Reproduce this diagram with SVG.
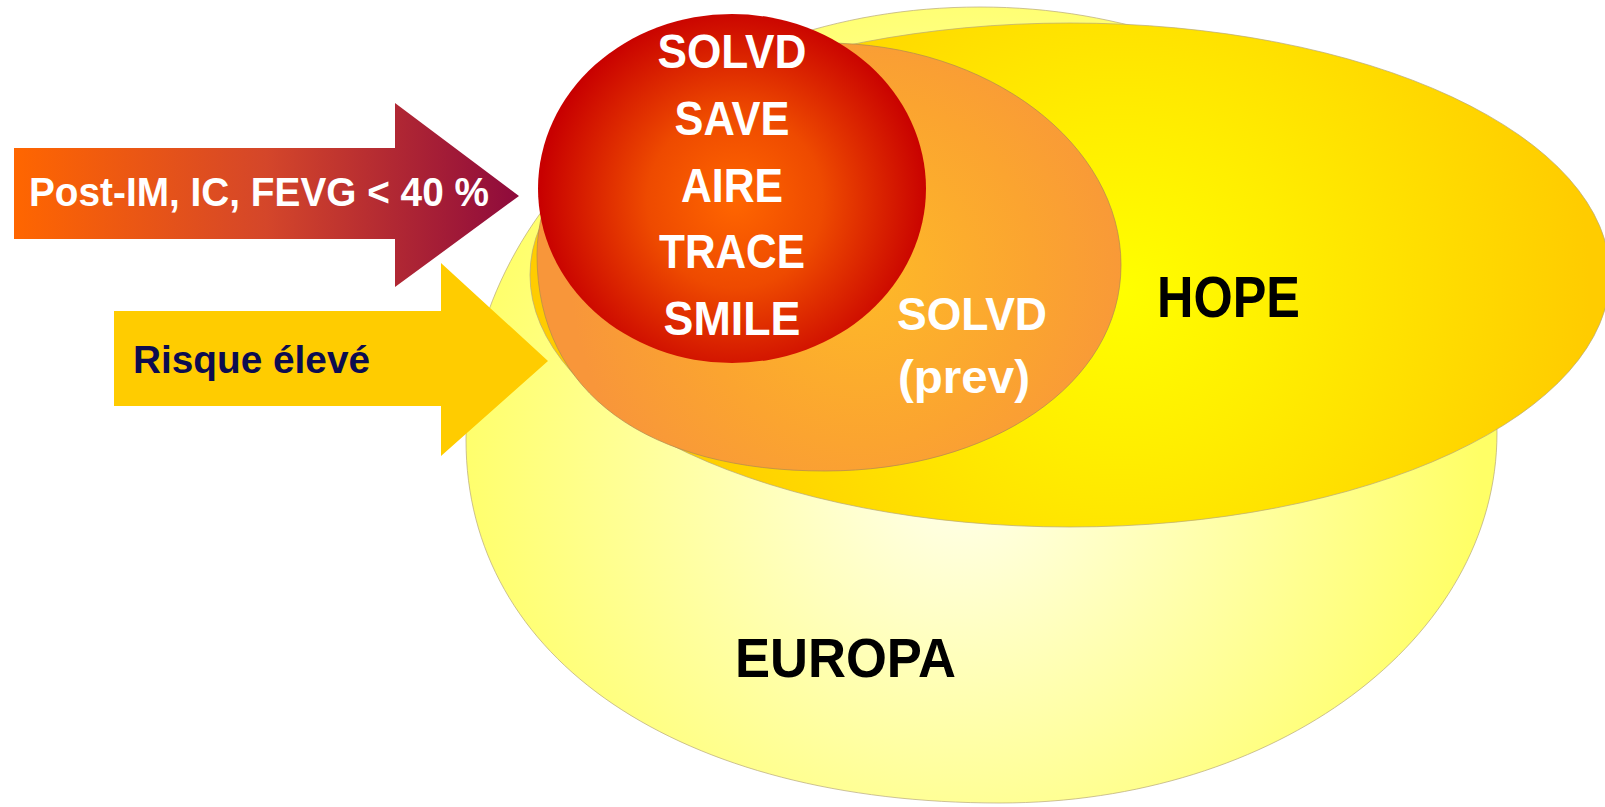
<svg xmlns="http://www.w3.org/2000/svg" width="1605" height="807" viewBox="0 0 1605 807">
  <defs>
    <radialGradient id="gEuropa" gradientUnits="userSpaceOnUse" cx="960" cy="470" r="520">
      <stop offset="0" stop-color="#FFFFEE"/>
      <stop offset="0.45" stop-color="#FFFFB0"/>
      <stop offset="1" stop-color="#FFFF66"/>
    </radialGradient>
    <radialGradient id="gHope" gradientUnits="userSpaceOnUse" cx="1120" cy="290" r="470">
      <stop offset="0" stop-color="#FFFF00"/>
      <stop offset="0.35" stop-color="#FFEE00"/>
      <stop offset="1" stop-color="#FFCC00"/>
    </radialGradient>
    <radialGradient id="gPrev" gradientUnits="userSpaceOnUse" cx="860" cy="270" r="290">
      <stop offset="0" stop-color="#FEBA28"/>
      <stop offset="0.6" stop-color="#FBA430"/>
      <stop offset="1" stop-color="#F8963A"/>
    </radialGradient>
    <radialGradient id="gRed" gradientUnits="userSpaceOnUse" cx="735" cy="200" r="195">
      <stop offset="0" stop-color="#FF6600"/>
      <stop offset="0.45" stop-color="#EE4A00"/>
      <stop offset="1" stop-color="#C80000"/>
    </radialGradient>
    <linearGradient id="gArrow1" gradientUnits="userSpaceOnUse" x1="14" y1="0" x2="520" y2="0">
      <stop offset="0" stop-color="#FF6600"/>
      <stop offset="0.5" stop-color="#D4462A"/>
      <stop offset="1" stop-color="#8E0A3C"/>
    </linearGradient>
  </defs>
  <style>
    .lbl { font-family: "Liberation Sans", Arial, sans-serif; font-weight: bold; }
    .white { fill: #FFFFFF; }
    .black { fill: #000000; }
    .edge { stroke: #B8A878; stroke-width: 1; stroke-opacity: 0.7; }
  </style>
  <rect width="1605" height="807" fill="#FFFFFF"/>

  <g id="europa">
    <path class="edge" fill="url(#gEuropa)" d="M 466 440 C 466 200 690 7 980 7 C 1265 7 1497 200 1497 433 C 1497 640 1275 803 1000 803 C 680 803 466 660 466 440 Z"/>
    <text class="lbl black" x="735" y="677" font-size="55" textLength="221" lengthAdjust="spacingAndGlyphs">EUROPA</text>
  </g>

  <g id="hope">
    <ellipse class="edge" cx="1070" cy="275" rx="540" ry="252" fill="url(#gHope)" stroke="#C9A200"/>
    <text class="lbl black" x="1157" y="317" font-size="57" textLength="143" lengthAdjust="spacingAndGlyphs">HOPE</text>
  </g>

  <g id="solvd-prev">
    <path d="M 537 255 C 537 135 665 43 825 43 C 990 43 1121 145 1121 265 C 1121 385 990 471 825 471 C 650 471 537 395 537 255 Z" fill="url(#gPrev)" stroke="#B08A50" stroke-width="1" stroke-opacity="0.7"/>
    <text class="lbl white" x="897" y="330" font-size="47" textLength="150" lengthAdjust="spacingAndGlyphs">SOLVD</text>
    <text class="lbl white" x="898" y="393" font-size="47" textLength="132" lengthAdjust="spacingAndGlyphs">(prev)</text>
  </g>

  <g id="post-im-trials">
    <ellipse cx="732" cy="188.5" rx="194" ry="174.5" fill="url(#gRed)"/>
    <text class="lbl white" x="732" y="68" font-size="48" text-anchor="middle" textLength="149" lengthAdjust="spacingAndGlyphs">SOLVD</text>
    <text class="lbl white" x="732" y="135" font-size="48" text-anchor="middle" textLength="115" lengthAdjust="spacingAndGlyphs">SAVE</text>
    <text class="lbl white" x="732" y="202" font-size="48" text-anchor="middle" textLength="102" lengthAdjust="spacingAndGlyphs">AIRE</text>
    <text class="lbl white" x="732" y="268" font-size="48" text-anchor="middle" textLength="146" lengthAdjust="spacingAndGlyphs">TRACE</text>
    <text class="lbl white" x="732" y="335" font-size="48" text-anchor="middle" textLength="137" lengthAdjust="spacingAndGlyphs">SMILE</text>
  </g>

  <g id="arrow-post-im">
    <polygon points="14,148 395,148 395,103 519,196 395,287 395,239 14,239" fill="url(#gArrow1)"/>
    <text class="lbl white" x="29" y="206" font-size="41" textLength="460" lengthAdjust="spacingAndGlyphs">Post-IM, IC, FEVG &lt; 40 %</text>
  </g>

  <g id="arrow-risque">
    <polygon points="114,311 441,311 441,263 548,361 441,456 441,406 114,406" fill="#FFCC00"/>
    <text class="lbl" x="133" y="373" font-size="38" fill="#0C0C50" textLength="237" lengthAdjust="spacingAndGlyphs">Risque élevé</text>
  </g>

  <g id="connectors"/>
</svg>
